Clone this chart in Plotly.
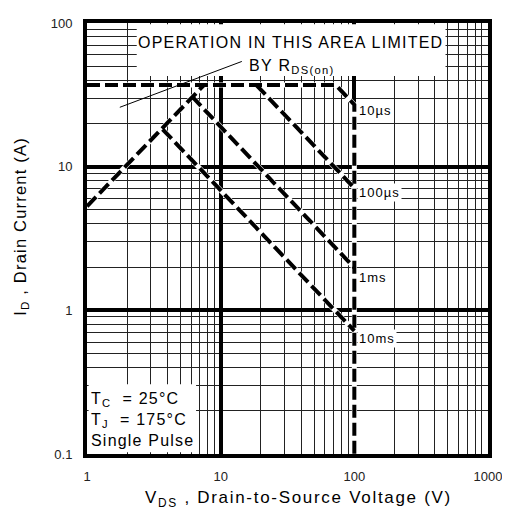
import math
import plotly.graph_objects as go

# ---- data ----
x_tickvals = [1, 10, 100, 1000]
x_ticktext = ["1", "10", "100", "1000"]
y_tickvals = [0.1, 1, 10, 100]
y_ticktext = ["0.1", "1", "10", "100"]

rds_v = [1, 7.5]              # R_DS(on) limit line
rds_i = [5.3, 37]
us10_v = [1, 72.8, 100, 100]  # package limit + 10 us + V_DSS limit
us10_i = [37, 37, 27, 0.1]
us100_v = [18.5, 100]
us100_i = [37, 7.1]
ms1_v = [6.1, 100]
ms1_i = [30.8, 1.98]
ms10_v = [3.68, 100]
ms10_i = [18.2, 0.72]
pointer_v = [1.76, 14.4]
pointer_i = [25.9, 54]

curve_labels = ["10µs", "100µs", "1ms", "10ms"]
label_v = [100, 100, 100, 100]
label_i = [24.5, 6.6, 1.7, 0.64]

FONT = "Liberation Sans, Arial, sans-serif"


def sp(txt, ls, size):
    return f'<span style="letter-spacing:{ls}px;font-size:{size}px">{txt}</span>'


fig = go.Figure()
curves = [(rds_v, rds_i), (us10_v, us10_i), (us100_v, us100_i), (ms1_v, ms1_i), (ms10_v, ms10_i)]
for v, i in curves:
    fig.add_trace(go.Scatter(x=v, y=i, mode="lines", line=dict(color="white", width=5),
                             hoverinfo="skip", showlegend=False))
for v, i in curves:
    fig.add_trace(go.Scatter(x=v, y=i, mode="lines", line=dict(color="black", width=4, dash="13px,5px"),
                             hoverinfo="skip", showlegend=False))

axis_common = dict(
    type="log", showgrid=True, gridcolor="black", gridwidth=3.5,
    minor=dict(showgrid=True, gridcolor="#222", gridwidth=1, tickmode="linear", dtick="D1"),
    showline=True, linecolor="black", linewidth=4, mirror=True, ticks="",
    tickfont=dict(family=FONT, size=13, color="#222"), zeroline=False,
)

fig.update_layout(
    width=502, height=510,
    margin=dict(l=79, r=19, t=8, b=64),
    paper_bgcolor="white", plot_bgcolor="white",
    font=dict(family=FONT, color="black"),
    xaxis=dict(axis_common, range=[0, 3], tickmode="array", tickvals=x_tickvals, ticktext=x_ticktext,
               ticklabelstandoff=7),
    yaxis=dict(axis_common, range=[-1, 2], tickmode="array", tickvals=y_tickvals, ticktext=y_ticktext,
               ticklabelstandoff=8),
    shapes=[
        dict(type="rect", xref="paper", yref="paper", x0=0.124, x1=0.894, y0=0.877, y1=0.997,
             fillcolor="white", line=dict(width=0), layer="above"),
        dict(type="rect", xref="paper", yref="paper", x0=0.004, x1=0.272, y0=0.004, y1=0.162,
             fillcolor="white", line=dict(width=0), layer="above"),
        dict(type="line", xref="x", yref="y", x0=pointer_v[0], y0=pointer_i[0],
             x1=pointer_v[1], y1=pointer_i[1], line=dict(color="black", width=1), layer="above"),
    ],
)

annotations = [
    # axis titles
    dict(xref="paper", yref="paper", x=0.528, y=-0.105, xanchor="center", yanchor="middle",
         text=sp("V<sub>DS</sub> , Drain-to-Source Voltage (V)", 1.7, 17),
         showarrow=False, font=dict(family=FONT, size=17, color="black")),
    dict(xref="paper", yref="paper", x=-0.165, y=0.529, xanchor="center", yanchor="middle", textangle=-90,
         text=sp("I<sub>D</sub> , Drain Current (A)", 1.2, 16.5), borderpad=0,
         showarrow=False, font=dict(family=FONT, size=16.5, color="black")),
    # notes
    dict(xref="paper", yref="paper", x=0.508, y=0.955, text=sp("OPERATION IN THIS AREA LIMITED", 1.25, 16),
         showarrow=False, font=dict(family=FONT, size=16, color="black"), xanchor="center", yanchor="middle"),
    dict(xref="paper", yref="paper", x=0.511, y=0.898, text=sp("BY R<sub>DS(on)</sub>", 1.3, 16),
         showarrow=False, font=dict(family=FONT, size=16, color="black"), xanchor="center", yanchor="middle"),
    dict(xref="paper", yref="paper", x=0.005, y=0.008, xanchor="left", yanchor="bottom", align="left",
         text=sp("T<sub>C</sub>  = 25°C<br>T<sub>J</sub>  = 175°C<br>Single Pulse", 1.2, 16),
         showarrow=False, font=dict(family=FONT, size=16, color="black")),
]
for lab, v, i in zip(curve_labels, label_v, label_i):
    annotations.append(dict(x=math.log10(v), y=math.log10(i), xref="x", yref="y", text=sp(lab, 1.0, 13),
                            showarrow=False, xanchor="left", yanchor="middle", xshift=3,
                            bgcolor="white", borderpad=1,
                            font=dict(family=FONT, size=13, color="black")))
fig.update_layout(annotations=annotations)

fig.write_html("out.html")
